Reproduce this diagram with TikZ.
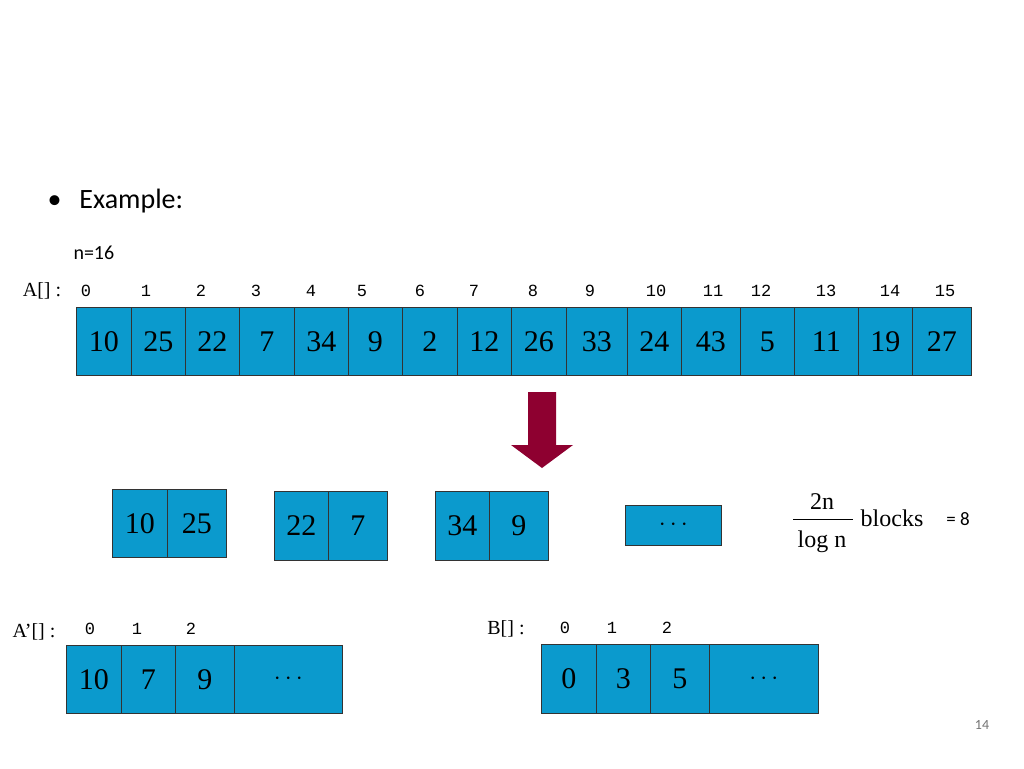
\documentclass[tikz,border=0pt]{standalone}
\usepackage{fontspec}
\setmainfont{Liberation Serif}
\newfontfamily\carfont{Carlito}
\newfontfamily\monofnt{Liberation Mono}
\definecolor{cellblue}{HTML}{0B9ACD}
\definecolor{arrred}{HTML}{8E0030}
\begin{document}
\begin{tikzpicture}[x=1pt,y=-1pt,
  cell/.style={draw=black!80,line width=0.7pt,fill=cellblue,inner sep=0pt,anchor=north west,font=\fontsize{30}{30}\selectfont},
  idx/.style={font=\monofnt\fontsize{17}{17}\selectfont},
  lbl/.style={font=\fontsize{20}{20}\selectfont}]
\useasboundingbox (0,0) rectangle (1024,768);
\node[font=\carfont\fontsize{28}{28}\selectfont,anchor=west] (ex) at (44,201) {\textbullet\hspace{18pt}Example:};
\node[font=\carfont\fontsize{20}{20}\selectfont,anchor=west] (n) at (70,253) {n=16};
\node[lbl] (al) at (42,291) {A[] :};
% top array
\foreach \a/\b/\t/\i [count=\k from 0] in {76/131/10/86,131/185/25/146,185/239/22/201,239/294/7/256,294/348/34/311,348/402/9/362,402/457/2/420,457/511/12/474,511/566/26/533,566/627/33/590,627/681/24/656,681/740/43/713,740/794/5/761,794/858/11/826,858/912/19/890,912/971/27/945}{
  \node[cell,minimum width=\b-\a,minimum height=68] (t\k) at (\a,307) {\t};
  \node[idx] (ti\k) at (\i,291) {\k};
}
% arrow
\fill[arrred] (528,392) -- (556,392) -- (556,445) -- (573,445) -- (542,468) -- (511,445) -- (528,445) -- cycle;
% blocks
\node[cell,minimum width=55,minimum height=68] (b1) at (112,489) {10};
\node[cell,minimum width=59,minimum height=68] (b2) at (167,489) {25};
\node[cell,minimum width=54,minimum height=69] (b3) at (274,491) {22};
\node[cell,minimum width=59,minimum height=69] (b4) at (328,491) {7};
\node[cell,minimum width=54,minimum height=69] (b5) at (435,491) {34};
\node[cell,minimum width=59,minimum height=69] (b6) at (489,491) {9};
\node[cell,minimum width=96,minimum height=40] (b7) at (625,505) {$\cdots$};
\node[font=\fontsize{24}{24}\selectfont] (f1) at (822,502) {2n};
\draw[line width=0.8pt] (793,519) -- (853,519);
\node[font=\fontsize{24}{24}\selectfont] (f2) at (822,542) {log n};
\node[font=\fontsize{24}{24}\selectfont] (f3) at (892,518) {blocks};
\node[font=\carfont\fontsize{19}{19}\selectfont] (f4) at (958,519) {= 8};
% A'
\node[lbl] (apl) at (34,632) {A’[] :};
\node[idx] (ai0) at (90,629) {0};
\node[idx] (ai1) at (137,629) {1};
\node[idx] (ai2) at (191,629) {2};
\node[cell,minimum width=55,minimum height=68] (a0) at (66,645) {10};
\node[cell,minimum width=54,minimum height=68] (a1) at (121,645) {7};
\node[cell,minimum width=59,minimum height=68] (a2) at (175,645) {9};
\node[cell,minimum width=108,minimum height=68] (a3) at (234,645) {$\cdots$};
% B
\node[lbl] (bl) at (506,629) {B[] :};
\node[idx] (bi0) at (565,628) {0};
\node[idx] (bi1) at (612,628) {1};
\node[idx] (bi2) at (667,628) {2};
\node[cell,minimum width=55,minimum height=69] (c0) at (541,644) {0};
\node[cell,minimum width=54,minimum height=69] (c1) at (596,644) {3};
\node[cell,minimum width=59,minimum height=69] (c2) at (650,644) {5};
\node[cell,minimum width=109,minimum height=69] (c3) at (709,644) {$\cdots$};
\node[font=\carfont\fontsize{14}{14}\selectfont,text=black!55] (pg) at (982,725) {14};
\end{tikzpicture}
\end{document}
